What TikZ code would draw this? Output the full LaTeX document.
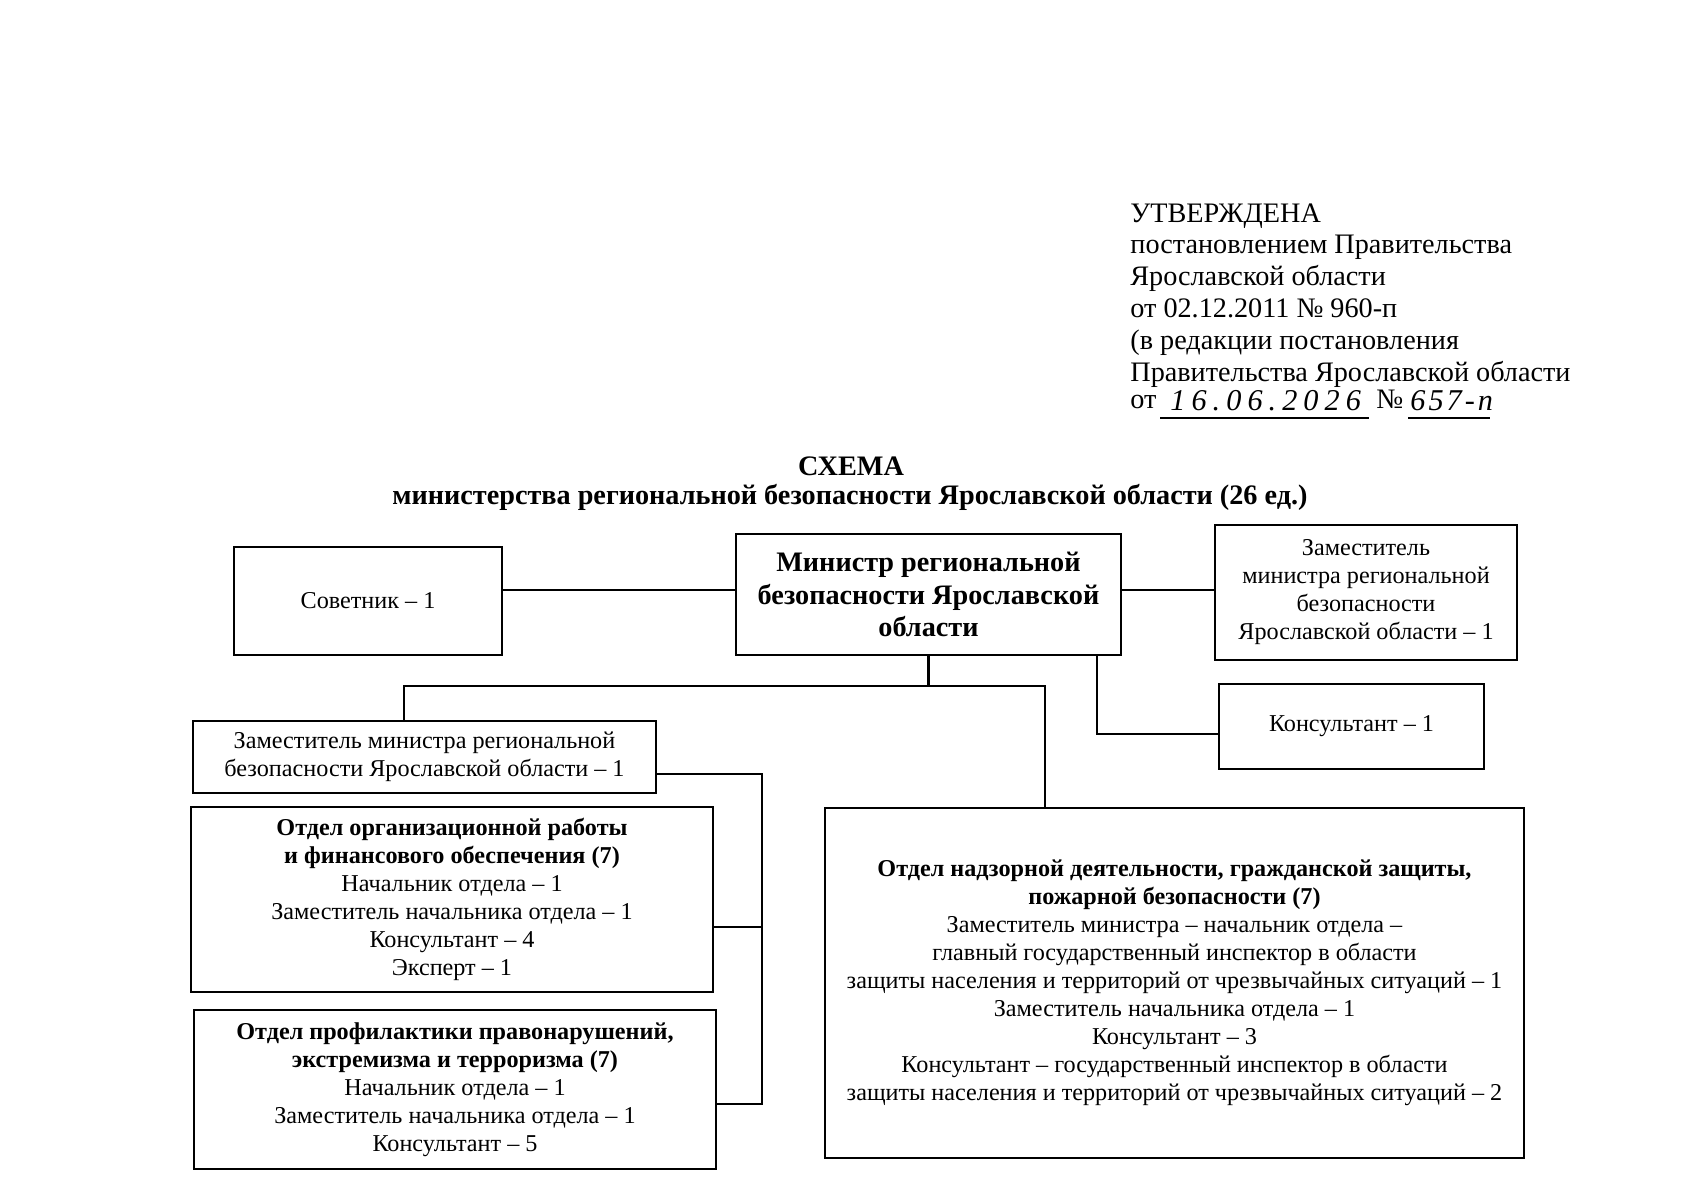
\documentclass[tikz,border=0pt]{standalone}
\usepackage{fontspec}
\setmainfont{Liberation Serif}
\begin{document}
\begin{tikzpicture}[x=0.4961pt,y=-0.4961pt,
  box/.style={draw, line width=0.6pt, inner sep=0pt, align=center, font=\fontsize{12}{13.9}\selectfont},
  sz/.style 2 args={minimum width=#1*0.4961pt, minimum height=#2*0.4961pt},
  link/.style={line width=1pt},
  hdr/.style={inner sep=0pt, align=left, font=\fontsize{14}{15.8}\selectfont, anchor=north west},
  hdrline/.style={inner sep=0pt, anchor=base west, font=\fontsize{14}{15.8}\selectfont},
  hand/.style={inner sep=0pt, font=\fontsize{15}{15}\selectfont\itshape, anchor=base west},
  ttl/.style={inner sep=0pt, font=\fontsize{14}{16}\selectfont\bfseries}]
\useasboundingbox[fill=white] (0,0) rectangle (1697,1200);

% header
\node[hdr] (hd) at (1130,203) {УТВЕРЖДЕНА\\постановлением Правительства\\Ярославской области\\от 02.12.2011 № 960-п\\(в редакции постановления\\Правительства Ярославской области};
\node[hdrline] (ot) at (1130,408) {от};
\node[hand] (d) at (1170,410) {\addfontfeature{LetterSpace=20}16.06.2026};
\node[hdrline] (no) at (1376,408) {№};
\node[hand] (n) at (1410,410) {\addfontfeature{LetterSpace=10}657-п};
\draw[line width=0.6pt] (d.base west) ++(-10,8) -- ++(209,0);
\draw[line width=0.6pt] (n.base west) ++(-2,8) -- ++(82,0);

% title
\node[ttl] (t1) at (851,466) {СХЕМА};
\node[ttl] (t2) at (850,497) {министерства региональной безопасности Ярославской области (26 ед.)};

% boxes
\node[box, sz={268}{108}] (sov) at (368,601) {Советник – 1};
\node[box, sz={385}{121}, font=\fontsize{14}{16}\selectfont\bfseries] (min) at (928.5,594.5) {Министр региональной\\безопасности Ярославской\\области};
\node[box, sz={302}{135}] (zam1) at (1366,592.5) {Заместитель\\министра региональной\\безопасности\\Ярославской области – 1};
\node[box, sz={265}{85}] (kons) at (1351.5,726.5) {Консультант – 1};
\node[box, sz={463}{72}] (zam2) at (424.5,757) {Заместитель министра региональной\\безопасности Ярославской области – 1};
\node[box, sz={522}{185}] (org) at (452,899.5) {\textbf{Отдел организационной работы}\\\textbf{и финансового обеспечения (7)}\\Начальник отдела – 1\\Заместитель начальника отдела – 1\\Консультант – 4\\Эксперт – 1};
\node[box, sz={522}{159}] (prof) at (455,1089.5) {\textbf{Отдел профилактики правонарушений,}\\\textbf{экстремизма и терроризма (7)}\\Начальник отдела – 1\\Заместитель начальника отдела – 1\\Консультант – 5};
\node[box, sz={699}{350}] (nadz) at (1174.5,983) {\textbf{Отдел надзорной деятельности, гражданской защиты,}\\\textbf{пожарной безопасности (7)}\\Заместитель министра – начальник отдела –\\главный государственный инспектор в области\\защиты населения и территорий от чрезвычайных ситуаций – 1\\Заместитель начальника отдела – 1\\Консультант – 3\\Консультант – государственный инспектор в области\\защиты населения и территорий от чрезвычайных ситуаций – 2};

% connectors
\coordinate (y590) at (0,590);
\draw[link] (sov.east |- y590) -- (min.west |- y590);
\draw[link] (min.east |- y590) -- (zam1.west |- y590);
\coordinate (kc) at (1097,734);
\draw[link] (min.south -| kc) -- (kc) -- (kons.west |- kc);
\coordinate (hub) at (928.5,686);
\coordinate (lx) at (404,686);
\coordinate (rx) at (1045,686);
\draw[link] (min.south) -- (hub);
\draw[link] (zam2.north -| lx) -- (lx) -- (rx) -- (nadz.north -| rx);
\coordinate (bus) at (762,774);
\coordinate (busb) at (762,1104);
\draw[link] (zam2.east |- bus) -- (bus) -- (busb) -- (prof.east |- busb);
\coordinate (y927) at (762,927);
\draw[link] (org.east |- y927) -- (y927);
\end{tikzpicture}
\end{document}
